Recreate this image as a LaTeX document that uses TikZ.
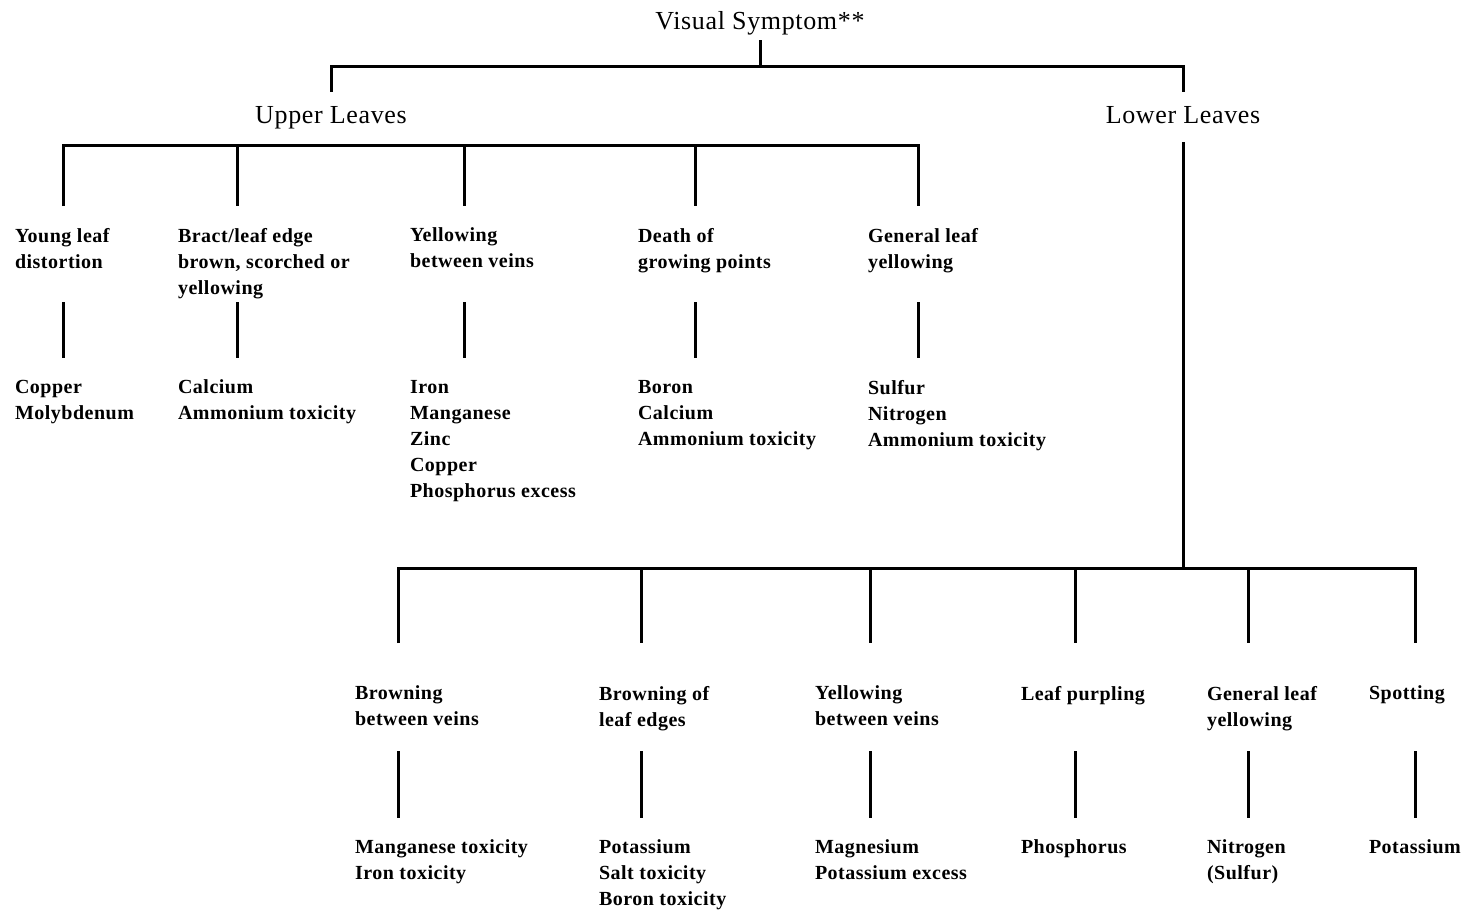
\documentclass[tikz,border=0pt]{standalone}
\usepackage{fontspec}
\setmainfont{Liberation Serif}[LetterSpace=2.5]
\usepackage{tikz}

\tikzset{
  head/.style={font=\fontsize{26}{30}\selectfont, anchor=base, inner xsep=0pt,
    inner ysep=13pt, text height=18pt, text depth=6pt},
  lab/.style={font=\bfseries\fontsize{20}{26}\selectfont, align=left,
    anchor=north west, inner sep=0pt, outer xsep=0pt, outer ysep=22pt},
  low/.style={lab, outer ysep=43pt},
  tree/.style={line width=3pt},
}

\begin{document}
\begin{tikzpicture}[x=1pt, y=-1pt]
  \useasboundingbox[fill=white] (0,0) rectangle (1472,916);

  % headings
  \node[head, inner ysep=5pt] (vs) at (760,29)  {Visual Symptom**};
  \node[head] (ul) at (331,123)  {Upper Leaves};
  \node[head] (ll) at (1183,123) {Lower Leaves};
  \coordinate (top) at (760,66);
  \coordinate (lbar) at (1183,568);

  \draw[tree] (vs.south) -- (top);
  \draw[tree] (ul.north) |- (top) -| (ll.north);
  \draw[tree] (ll.south) -- (lbar);

  % upper leaves
  \node[lab] (s1) at (15,206)  {Young leaf\\distortion};
  \node[lab] (s2) at (178,206) {Bract/leaf edge\\brown, scorched or\\yellowing};
  \node[lab] (s3) at (410,206) {Yellowing\\between veins};
  \node[lab] (s4) at (638,206) {Death of\\growing points};
  \node[lab] (s5) at (868,206) {General leaf\\yellowing};

  \node[lab] (c1) at (15,358)  {Copper\\Molybdenum};
  \node[lab] (c2) at (178,358) {Calcium\\Ammonium toxicity};
  \node[lab] (c3) at (410,358) {Iron\\Manganese\\Zinc\\Copper\\Phosphorus excess};
  \node[lab] (c4) at (638,358) {Boron\\Calcium\\Ammonium toxicity};
  \node[lab] (c5) at (868,358) {Sulfur\\Nitrogen\\Ammonium toxicity};

  \foreach \x/\n in {63/1,237/2,464/3,695/4,918/5}{
    \coordinate (ub\n) at (\x,145);
    \coordinate (um\n) at (\x,302);
    \draw[tree] (ub\n) -- (ub\n |- s\n.north);
    \draw[tree] (um\n) -- (um\n |- c\n.north);
  }
  \draw[tree] (ub1 |- s1.north) -- (ub1) -- (ub5) -- (ub5 |- s5.north);

  % lower leaves
  \node[low] (t1) at (355,643)  {Browning\\between veins};
  \node[low] (t2) at (599,643)  {Browning of\\leaf edges};
  \node[low] (t3) at (815,643)  {Yellowing\\between veins};
  \node[low] (t4) at (1021,643) {Leaf purpling};
  \node[low] (t5) at (1207,643) {General leaf\\yellowing};
  \node[low] (t6) at (1369,643) {Spotting};

  \node[lab] (d1) at (355,818)  {Manganese toxicity\\Iron toxicity};
  \node[lab] (d2) at (599,818)  {Potassium\\Salt toxicity\\Boron toxicity};
  \node[lab] (d3) at (815,818)  {Magnesium\\Potassium excess};
  \node[lab] (d4) at (1021,818) {Phosphorus};
  \node[lab] (d5) at (1207,818) {Nitrogen\\(Sulfur)};
  \node[lab] (d6) at (1369,818) {Potassium};

  \foreach \x/\n in {398/1,641/2,870/3,1075/4,1248/5,1415/6}{
    \coordinate (lb\n) at (\x,568);
    \coordinate (lm\n) at (\x,751);
    \draw[tree] (lb\n) -- (lb\n |- t\n.north);
    \draw[tree] (lm\n) -- (lm\n |- d\n.north);
  }
  \draw[tree] (lb1 |- t1.north) -- (lb1) -- (lb6) -- (lb6 |- t6.north);
\end{tikzpicture}
\end{document}
